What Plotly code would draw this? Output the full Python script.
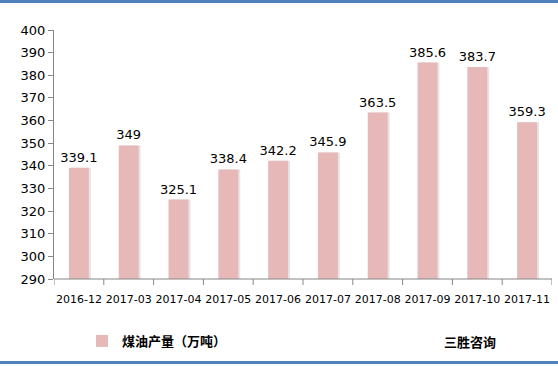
import plotly.graph_objects as go

categories = ["2016-12", "2017-03", "2017-04", "2017-05", "2017-06",
              "2017-07", "2017-08", "2017-09", "2017-10", "2017-11"]
values = [339.1, 349, 325.1, 338.4, 342.2, 345.9, 363.5, 385.6, 383.7, 359.3]
labels = ["339.1", "349", "325.1", "338.4", "342.2", "345.9", "363.5", "385.6", "383.7", "359.3"]
series_name = "煤油产量（万吨）"
y_ticks = list(range(290, 401, 10))
y_base = 290

W, H = 558, 366
ml, mr, mt, mb = 54, 6, 30, 87
pw = W - ml - mr
ph = H - mt - mb

heights = [v - y_base for v in values]

fig = go.Figure()
# shadow
fig.add_trace(go.Bar(
    x=categories, y=heights, base=y_base, offset=-0.2 + 0.04, width=0.4,
    marker=dict(color="rgba(0,0,0,0.10)", line=dict(width=0)),
    hoverinfo="skip", showlegend=False,
))
fig.add_trace(go.Bar(
    x=categories, y=heights, base=y_base, width=0.4, offset=-0.2,
    name="<b>" + series_name + "</b>",
    marker=dict(color="#E6B9B8", line=dict(width=0)),
    text=labels, textposition="outside", cliponaxis=False, constraintext="none",
    textfont=dict(family="Verdana, DejaVu Sans, sans-serif", size=13, color="#000000"),
))

fig.update_layout(
    width=W, height=H,
    margin=dict(l=ml, r=mr, t=mt, b=mb),
    paper_bgcolor="white", plot_bgcolor="white",
    barmode="overlay",
    uniformtext=dict(mode=False),
    showlegend=True,
    legend=dict(orientation="h", x=(82 - ml) / pw, y=-(341 - (H - mb)) / ph,
                xanchor="left", yanchor="middle",
                font=dict(family="Noto Sans CJK SC", size=13, color="#000"),
                itemwidth=30, traceorder="normal"),
    xaxis=dict(
        type="category", range=[-0.5, 9.5],
        showline=False, ticks="outside", ticklen=10, tickcolor="rgba(0,0,0,0)",
        showgrid=False,
        tickfont=dict(family="Verdana, DejaVu Sans, sans-serif", size=11, color="#000"),
    ),
    yaxis=dict(
        range=[290, 400], tickvals=y_ticks,
        showline=True, linecolor="#868686", linewidth=1,
        ticks="outside", ticklen=5, tickcolor="#868686",
        showgrid=False, zeroline=False,
        tickfont=dict(family="Verdana, DejaVu Sans, sans-serif", size=13, color="#000"),
    ),
    font=dict(family="Noto Sans CJK SC"),
)

# x axis line and tick marks at category boundaries
shapes = [dict(type="line", xref="paper", yref="paper", x0=0, x1=1, y0=0, y1=0,
               line=dict(color="#868686", width=1))]
for i in range(len(categories) + 1):
    shapes.append(dict(type="line", xref="x", yref="paper", x0=i - 0.5, x1=i - 0.5,
                       y0=0, y1=-6 / ph, line=dict(color="#868686", width=1)))
# top and bottom blue bands
shapes.append(dict(type="rect", xref="paper", yref="paper",
                   x0=-ml / pw, x1=1 + mr / pw,
                   y0=1 + (mt - 3) / ph, y1=1 + mt / ph,
                   line=dict(width=0), fillcolor="#4F81BD"))
shapes.append(dict(type="rect", xref="paper", yref="paper",
                   x0=-ml / pw, x1=1 + mr / pw,
                   y0=-(mb - 2) / ph, y1=-(mb - 5) / ph,
                   line=dict(width=0), fillcolor="#4F81BD"))
fig.update_layout(shapes=shapes)

fig.add_annotation(text="<b>三胜咨询</b>", xref="paper", yref="paper",
                   x=(470 - ml) / pw, y=-(341 - (H - mb)) / ph,
                   showarrow=False, xanchor="center", yanchor="middle",
                   font=dict(family="Noto Sans CJK SC", size=13, color="#000"))

fig.write_html("out.html")
